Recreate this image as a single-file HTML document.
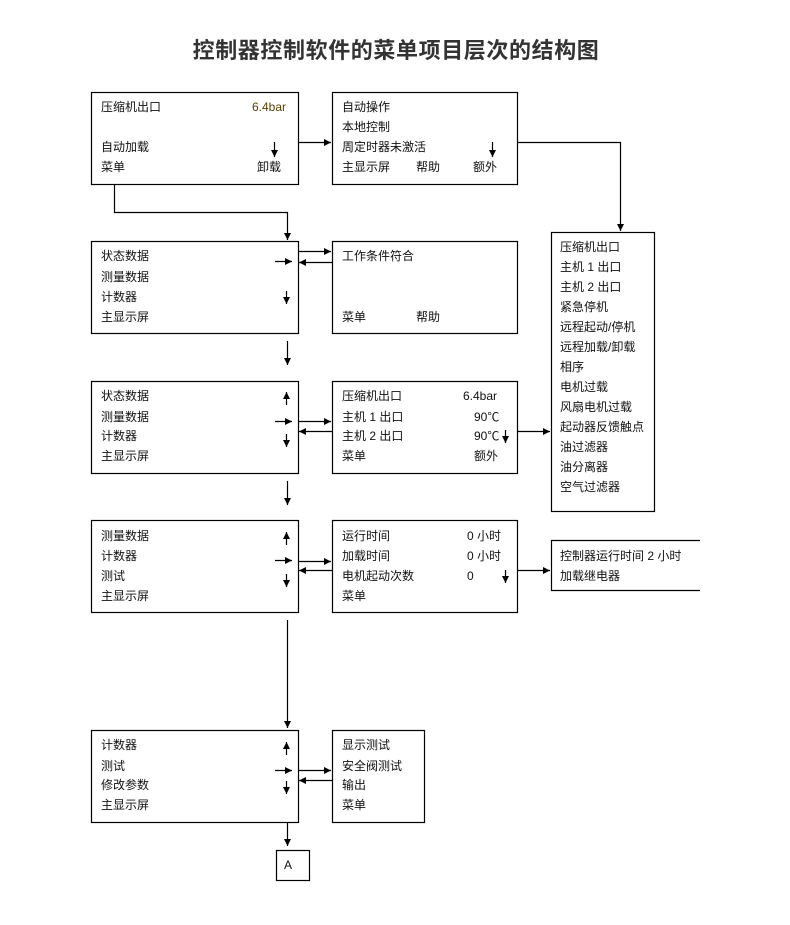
<!DOCTYPE html>
<html><head><meta charset="utf-8"><style>
body{margin:0;background:#fff;}
svg text{font-family:"Liberation Sans","Noto Sans CJK SC",sans-serif;font-size:12px;fill:#111;}
</style></head><body>
<svg width="790" height="920" viewBox="0 0 790 920" xmlns="http://www.w3.org/2000/svg">
<defs>
<marker id="a" markerWidth="8" markerHeight="8" refX="7" refY="4" orient="auto" markerUnits="userSpaceOnUse">
<path d="M0,0.5 L7,4 L0,7.5 z" fill="#000"/></marker>
</defs>
<text x="396" y="58" text-anchor="middle" style="font-size:22px;fill:#333;font-weight:bold;letter-spacing:0.6px">控制器控制软件的菜单项目层次的结构图</text>
<g fill="none" stroke="#000" stroke-width="1.2">
<rect x="91.5" y="92.5" width="207" height="92"/>
<rect x="332.5" y="92.5" width="185" height="92"/>
<rect x="551.5" y="232.5" width="103" height="279"/>
<rect x="91.5" y="241.5" width="207" height="92"/>
<rect x="332.5" y="241.5" width="185" height="92"/>
<rect x="91.5" y="381.5" width="207" height="92"/>
<rect x="332.5" y="381.5" width="185" height="92"/>
<rect x="91.5" y="520.5" width="207" height="92"/>
<rect x="332.5" y="520.5" width="185" height="92"/>
<path d="M700,540.5 H551.5 V590.5 H700"/>
<rect x="91.5" y="730.5" width="207" height="92"/>
<rect x="332.5" y="730.5" width="92" height="92"/>
<rect x="276.5" y="850.5" width="33" height="30"/>
</g>
<g stroke="#000" stroke-width="1.2" fill="none" marker-end="url(#a)">
<path d="M298,142.5 H331"/>
<path d="M517,142.5 H620.5 V231"/>
<path d="M114.5,184 V212.5 H287.5 V240"/>
<path d="M298,251.5 H331"/><path d="M332,262.5 H299"/>
<path d="M287.5,341 V365"/>
<path d="M298,421.5 H331"/><path d="M332,431.5 H299"/>
<path d="M517,431.5 H550"/>
<path d="M287.5,481 V505"/>
<path d="M298,561.5 H331"/><path d="M332,570.5 H299"/>
<path d="M517,570.5 H550"/>
<path d="M287.5,620 V728"/>
<path d="M298,770.5 H331"/><path d="M332,780.5 H299"/>
<path d="M287.5,822 V846"/>
<path d="M274.5,142 V157"/>
<path d="M492.5,142 V157"/>
<path d="M275,261.5 H292"/><path d="M286.5,291 V304"/>
<path d="M286.5,405 V392"/><path d="M275,421.5 H292"/><path d="M286.5,434 V447"/><path d="M505.5,430 V443"/>
<path d="M286.5,545 V532"/><path d="M275,560.5 H292"/><path d="M286.5,574 V587"/><path d="M505.5,570 V583"/>
<path d="M286.5,755 V742"/><path d="M275,770.5 H292"/><path d="M286.5,781 V794"/>
</g>
<text x="101" y="111">压缩机出口</text><text x="252" y="111" style="fill:#5a4000">6.4bar</text>
<text x="101" y="151">自动加载</text>
<text x="101" y="171">菜单</text><text x="257" y="171">卸载</text>
<text x="342" y="111">自动操作</text>
<text x="342" y="131">本地控制</text>
<text x="342" y="151">周定时器未激活</text>
<text x="342" y="171">主显示屏</text><text x="416" y="171">帮助</text><text x="473" y="171">额外</text>
<g>
<text x="560" y="251">压缩机出口</text>
<text x="560" y="271">主机 1 出口</text>
<text x="560" y="291">主机 2 出口</text>
<text x="560" y="311">紧急停机</text>
<text x="560" y="331">远程起动/停机</text>
<text x="560" y="351">远程加载/卸载</text>
<text x="560" y="371">相序</text>
<text x="560" y="391">电机过载</text>
<text x="560" y="411">风扇电机过载</text>
<text x="560" y="431">起动器反馈触点</text>
<text x="560" y="451">油过滤器</text>
<text x="560" y="471">油分离器</text>
<text x="560" y="491">空气过滤器</text>
</g>
<text x="101" y="260">状态数据</text><text x="101" y="281">测量数据</text><text x="101" y="301">计数器</text><text x="101" y="321">主显示屏</text>
<text x="342" y="260">工作条件符合</text>
<text x="342" y="321">菜单</text><text x="416" y="321">帮助</text>
<text x="101" y="400">状态数据</text><text x="101" y="421">测量数据</text><text x="101" y="440">计数器</text><text x="101" y="460">主显示屏</text>
<text x="342" y="400">压缩机出口</text><text x="463" y="400">6.4bar</text>
<text x="342" y="421">主机 1 出口</text><text x="474" y="421">90℃</text>
<text x="342" y="440">主机 2 出口</text><text x="474" y="440">90℃</text>
<text x="342" y="460">菜单</text><text x="474" y="460">额外</text>
<text x="101" y="540">测量数据</text><text x="101" y="560">计数器</text><text x="101" y="580">测试</text><text x="101" y="600">主显示屏</text>
<text x="342" y="540">运行时间</text><text x="467" y="540">0  小时</text>
<text x="342" y="560">加载时间</text><text x="467" y="560">0  小时</text>
<text x="342" y="580">电机起动次数</text><text x="467" y="580">0</text>
<text x="342" y="600">菜单</text>
<text x="560" y="560">控制器运行时间   2 小时</text>
<text x="560" y="580">加载继电器</text>
<text x="101" y="749">计数器</text><text x="101" y="770">测试</text><text x="101" y="789">修改参数</text><text x="101" y="809">主显示屏</text>
<text x="342" y="749">显示测试</text><text x="342" y="770">安全阀测试</text><text x="342" y="789">输出</text><text x="342" y="809">菜单</text>
<text x="284" y="869">A</text>
</svg>
</body></html>
